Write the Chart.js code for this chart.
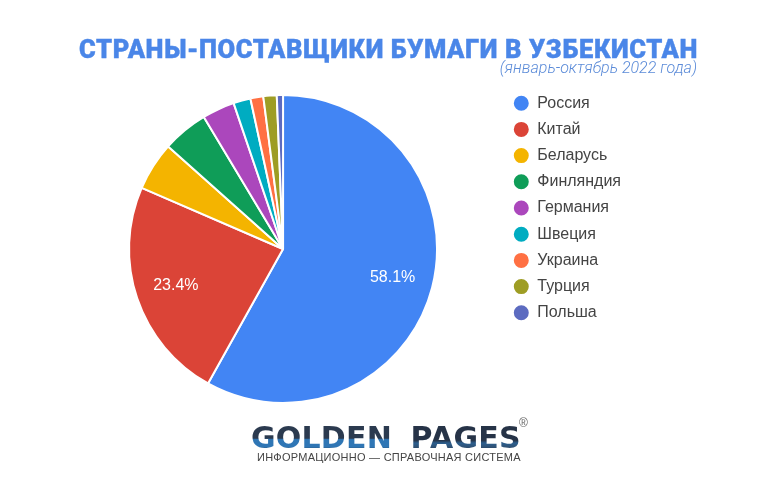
<!DOCTYPE html>
<html lang="ru">
<head>
<meta charset="utf-8">
<script src="https://cdn.jsdelivr.net/npm/chart.js@4"></script>
<style>
html,body{margin:0;padding:0;background:#fff;width:777px;height:478px;overflow:hidden}
#wrap{position:relative;width:777px;height:478px}
canvas{position:absolute;left:0;top:0}
.t{position:absolute;white-space:nowrap}
#title{left:79px;top:34px;font:900 25.5px Roboto,sans-serif;color:#4a86e8;letter-spacing:.6px;line-height:30px;-webkit-text-stroke:.4px #4a86e8}
#sub{right:80px;top:59px;font:italic 300 16px Roboto,sans-serif;color:#5b8bd8;line-height:18px}
#logo{left:251px;top:421px;font:bold 30px "DejaVu Sans",sans-serif;line-height:34px;letter-spacing:.2px}
#logo span{-webkit-background-clip:text;background-clip:text;color:transparent}
#g1{background-image:linear-gradient(180deg,#2b3a4f 0%,#2b3a4f 52%,#2f76b5 56%,#2f76b5 76%,#2b3a4f 90%)}
#g2{background-image:linear-gradient(180deg,#263347 0%,#263347 58%,#2d5f8f 66%,#2f5378 76%,#263347 90%);margin-left:8px}
#reg{left:519px;top:416px;font:12px "Liberation Sans",sans-serif;color:#666}
#tag{left:257px;top:450px;font:11px "Liberation Sans",sans-serif;color:#444;letter-spacing:.25px;line-height:14px}
</style>
</head>
<body>
<div id="wrap">
<canvas id="c" width="777" height="478"></canvas>
<div class="t" id="title">СТРАНЫ-ПОСТАВЩИКИ БУМАГИ В УЗБЕКИСТАН</div>
<div class="t" id="sub">(январь-октябрь 2022 года)</div>
<div class="t" id="logo"><span id="g1">GOLDEN</span><span id="g2"> PAGES</span></div>
<div class="t" id="reg">®</div>
<div class="t" id="tag">ИНФОРМАЦИОННО — СПРАВОЧНАЯ СИСТЕМА</div>
</div>
<script>
const countries = ["Россия","Китай","Беларусь","Финляндия","Германия","Швеция","Украина","Турция","Польша"];
const shares = [58.1,23.4,5.1,4.8,3.4,1.8,1.35,1.4,0.65];
const colors = ["#4285f4","#db4437","#f4b400","#0f9d58","#ab47bc","#00acc1","#ff7043","#9e9d24","#5c6bc0"];

const sliceLabels = {
  id:"sliceLabels",
  afterDatasetsDraw(chart){
    const ctx = chart.ctx, meta = chart.getDatasetMeta(0);
    ctx.save();
    ctx.fillStyle="#fff";
    ctx.font='16px "Liberation Sans", Arial, sans-serif';
    ctx.textAlign="center"; ctx.textBaseline="middle";
    meta.data.forEach((a,i)=>{
      if(shares[i]<10) return;
      const m=(a.startAngle+a.endAngle)/2, r=a.outerRadius*0.735;
      ctx.fillText(shares[i].toFixed(1)+"%", a.x+Math.cos(m)*r, a.y+Math.sin(m)*r);
    });
    ctx.restore();
  }
};

new Chart(document.getElementById("c"),{
  type:"pie",
  data:{labels:countries,datasets:[{data:shares,backgroundColor:colors,borderColor:"#fff",borderWidth:2,radius:154}]},
  options:{
    responsive:false,animation:false,
    layout:{padding:{left:63,right:146,top:85,bottom:65}},
    plugins:{
      tooltip:{enabled:false},
      legend:{
        position:"right",align:"start",
        labels:{usePointStyle:true,pointStyle:"circle",boxHeight:12,padding:10.2,color:"#444",
          font:{family:'"Liberation Sans", Arial, sans-serif',size:16}}
      }
    }
  },
  plugins:[sliceLabels]
});
</script>
</body>
</html>
